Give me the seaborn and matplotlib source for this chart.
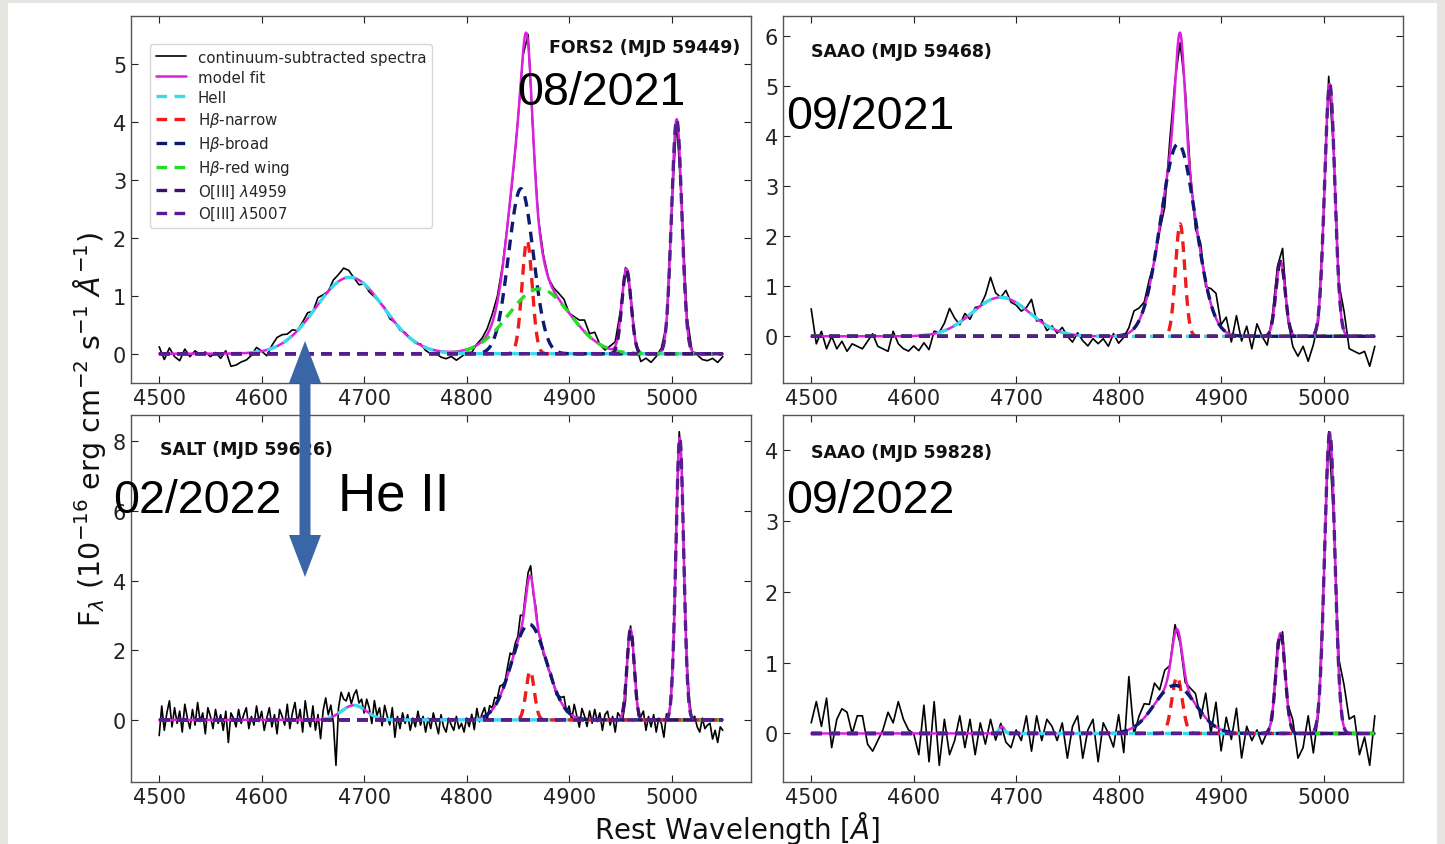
import numpy as np
import matplotlib
matplotlib.use("Agg")
import matplotlib.pyplot as plt
from matplotlib.patches import Rectangle, Polygon
import seaborn as sns

# panel info
panel_titles = ["FORS2 (MJD 59449)", "SAAO (MJD 59468)", "SALT (MJD 59626)", "SAAO (MJD 59828)"]
panel_dates = ["08/2021", "09/2021", "02/2022", "09/2022"]
wave_step = [5, 5, 2.5, 5]

# fitted gaussian components, one tuple per panel: (centre [A], peak flux, sigma [A])
heii = [(4686, 1.32, 33), (4685, 0.78, 28), (4690, 0.42, 12), (4686, 0.10, 2.5)]
hb_narrow = [(4859, 1.95, 5), (4860, 2.25, 4.5), (4862, 1.40, 4), (4857, 0.80, 5)]
hb_broad = [(4853, 2.85, 12), (4858, 3.85, 17), (4861, 2.75, 17), (4855, 0.68, 20)]
hb_red_wing = [(4871, 1.12, 30), (4871, 0.0, 30), (4871, 0.0, 30), (4871, 0.0, 30)]
oiii_4959 = [(4956, 1.45, 4.5), (4958, 1.50, 4.5), (4960, 2.60, 3.5), (4958, 1.42, 4.5)]
oiii_5007 = [(5005, 4.05, 5), (5006, 5.05, 5), (5008, 8.10, 3.8), (5006, 4.25, 5)]

# spectrum minus model (one value per pixel step)
res_fors2 = [
    0.12, -0.10, 0.10, -0.05, -0.12, 0.08, -0.05, 0.05, -0.02, 0.03,
    -0.05, 0.02, -0.08, 0.05, -0.22, -0.20, -0.15, -0.12, -0.05, 0.08,
    0.00, -0.10, 0.05, 0.15, 0.15, 0.10, 0.10, 0.00, 0.05, 0.10,
    0.00, 0.12, 0.05, 0.00, 0.10, 0.12, 0.18, 0.12, 0.00, -0.08,
    0.00, -0.05, -0.03, 0.00, 0.02, -0.05, 0.00, -0.03, 0.02, 0.00,
    -0.02, 0.02, -0.05, -0.08, -0.05, -0.10, -0.12, -0.08, -0.15, -0.10,
    -0.05, -0.08, 0.02, 0.05, 0.10, 0.15, 0.10, 0.05, 0.00, -0.05,
    0.00, -0.05, 0.15, -0.05, 0.00, 0.05, 0.00, 0.05, 0.10, 0.12,
    0.00, 0.05, 0.10, 0.20, 0.05, 0.15, 0.00, -0.05, 0.05, 0.08,
    0.10, 0.05, 0.05, -0.05, -0.15, -0.08, -0.15, -0.05, 0.05, -0.05,
    0.00, 0.00, 0.05, 0.10, 0.00, -0.02, -0.10, -0.12, -0.08, -0.15,
    -0.05,
]
res_saao1 = [
    0.55, -0.15, 0.10, -0.25, 0.00, -0.25, -0.10, -0.30, -0.15, -0.20,
    -0.25, -0.10, 0.05, -0.20, -0.25, -0.30, 0.10, -0.15, -0.25, -0.30,
    -0.20, -0.30, -0.15, -0.30, 0.05, 0.00, 0.15, 0.40, 0.15, -0.05,
    0.10, -0.10, 0.05, 0.00, 0.15, 0.45, 0.10, 0.00, 0.15, -0.05,
    -0.05, -0.10, 0.05, 0.30, -0.05, 0.05, -0.10, 0.05, -0.05, 0.10,
    -0.05, -0.15, 0.05, -0.10, -0.20, -0.05, -0.15, -0.05, -0.20, 0.05,
    -0.15, -0.05, 0.10, 0.35, 0.25, 0.10, 0.15, -0.05, -0.10, -0.30,
    0.30, 0.10, -0.20, 0.20, 0.10, -0.20, 0.20, -0.10, 0.30, 0.50,
    0.05, 0.30, -0.15, 0.40, -0.10, 0.20, -0.25, 0.25, 0.00, -0.20,
    0.10, 0.20, 0.40, -0.10, -0.25, -0.40, -0.20, -0.50, -0.20, -0.15,
    0.00, 0.25, -0.05, 0.05, 0.40, -0.25, -0.30, -0.35, -0.30, -0.60,
    -0.20,
]
res_salt = [
    -0.45, 0.40, -0.30, 0.20, 0.55, -0.20, 0.35, -0.10, 0.25, -0.35, 0.45, 0.05, -0.25, 0.30, -0.15, 0.50, -0.05, 0.20, -0.40, 0.35,
    0.10, -0.25, 0.30, -0.10, 0.15, -0.30, 0.25, -0.65, 0.20, 0.05, -0.20, 0.30, -0.10, 0.15, 0.35, -0.25, 0.10, -0.15, 0.40, -0.05,
    0.25, -0.30, 0.05, 0.35, -0.20, 0.15, -0.40, 0.30, 0.10, -0.15, 0.45, -0.25, 0.20, 0.50, -0.10, 0.30, -0.35, 0.55, 0.05, -0.20,
    0.40, -0.30, 0.15, -0.55, 0.25, 0.60, 0.10, 0.35, -0.20, -1.45, 0.15, 0.55, 0.30, 0.20, 0.40, 0.05, 0.30, 0.45, 0.10, 0.25,
    -0.10, 0.35, 0.15, -0.25, 0.45, 0.05, 0.30, -0.20, 0.40, 0.10, -0.15, 0.35, -0.50, 0.10, -0.25, 0.20, -0.10, 0.15, -0.30, 0.05,
    -0.20, 0.25, -0.15, 0.10, -0.35, 0.05, -0.25, 0.20, -0.10, -0.40, 0.15, -0.20, -0.35, 0.05, -0.15, -0.30, 0.10, -0.25, -0.10, -0.35,
    0.05, -0.20, 0.15, -0.30, 0.30, -0.10, 0.10, 0.25, -0.15, 0.20, 0.05, 0.25, 0.10, 0.30, 0.15, 0.05, 0.25, 0.40, 0.10, 0.20,
    0.15, 0.50, 0.10, 0.20, 0.25, 0.30, -0.10, 0.15, -0.05, 0.10, -0.10, 0.05, -0.05, 0.10, 0.00, -0.10, 0.05, 0.15, 0.30, -0.05,
    0.20, -0.15, 0.35, 0.05, -0.25, 0.30, 0.10, -0.20, 0.25, -0.10, 0.30, -0.05, 0.20, -0.30, 0.15, 0.25, -0.15, 0.10, -0.35, 0.20,
    0.05, -0.20, -0.40, 0.15, 0.10, -0.05, 0.20, -0.15, 0.05, 0.25, -0.30, 0.10, -0.20, 0.15, -0.35, 0.05, -0.10, -0.50, 0.15, -0.05,
    0.10, -0.15, 0.25, 0.25, 0.30, -0.10, 0.15, 0.20, -0.05, 0.10, -0.20, -0.35, 0.05, -0.25, -0.15, -0.10, -0.55, -0.30, -0.65, -0.20,
    -0.30,
]
res_saao2 = [
    0.15, 0.45, 0.10, 0.50, -0.20, 0.20, 0.35, 0.30, 0.00, 0.25,
    0.25, -0.15, -0.25, -0.10, 0.05, 0.30, 0.15, 0.45, 0.20, 0.05,
    0.00, -0.30, 0.40, -0.40, 0.45, -0.45, 0.20, -0.30, -0.10, 0.25,
    -0.20, 0.20, -0.30, 0.15, -0.15, 0.20, -0.10, 0.05, -0.15, -0.20,
    0.05, -0.10, 0.25, -0.25, 0.25, -0.10, 0.20, 0.10, -0.10, 0.15,
    -0.35, 0.10, 0.25, -0.35, 0.05, 0.20, -0.40, 0.15, 0.00, -0.20,
    0.25, -0.30, 0.75, -0.10, 0.10, 0.20, 0.10, 0.30, 0.10, 0.25,
    0.00, 0.12, -0.05, -0.10, 0.10, 0.15, -0.10, 0.35, -0.15, 0.35,
    -0.30, 0.20, -0.10, 0.35, -0.35, 0.10, -0.10, 0.05, -0.15, 0.00,
    -0.10, 0.15, 0.15, 0.00, 0.15, -0.35, -0.20, 0.25, -0.30, -0.10,
    0.05, 0.10, -0.10, 0.20, 0.60, 0.20, 0.25, -0.30, -0.05, -0.45,
    0.25,
]
residuals = [res_fors2, res_saao1, res_salt, res_saao2]

components = [
    ("HeII", heii, "#36dcec"),
    (r"H$\beta$-narrow", hb_narrow, "#f01c1c"),
    (r"H$\beta$-broad", hb_broad, "#0d1a70"),
    (r"H$\beta$-red wing", hb_red_wing, "#26dc26"),
    (r"O[III] $\lambda$4959", oiii_4959, "#3d0f70"),
    (r"O[III] $\lambda$5007", oiii_5007, "#561c90"),
]


def gauss(wave, centre, peak, sigma):
    return peak * np.exp(-0.5 * ((wave - centre) / sigma) ** 2)


sns.set_style("ticks")
plt.rcParams["font.family"] = ["DejaVu Sans"]

W, H = 1445, 845
fig = plt.figure(figsize=(W / 100, H / 100), dpi=100, facecolor="#e7e5e1")
fig.patches.append(Rectangle((8 / W, 0), 1429 / W, 841 / H, transform=fig.transFigure,
                             facecolor="white", edgecolor="none", zorder=-10))

# axes boxes in pixels: left, top, right, bottom
boxes = [(131, 17, 751, 384), (783, 17, 1403, 384), (131, 416, 751, 783), (783, 416, 1403, 783)]
title_pos = [(0.982, 0.916, "right"), (0.045, 0.905, "left"), (0.047, 0.907, "left"), (0.045, 0.90, "left")]

fine = np.linspace(4500, 5050, 1101)

for i, (l, t, r, b) in enumerate(boxes):
    ax = fig.add_axes([l / W, 1 - b / H, (r - l) / W, (b - t) / H])
    wave = np.arange(4500, 5050 + 0.01, wave_step[i])
    model_grid = sum(gauss(wave, *comp[i]) for _, comp, _ in components)
    model_fine = sum(gauss(fine, *comp[i]) for _, comp, _ in components)
    flux = model_grid + np.array(residuals[i])

    sns.lineplot(x=wave, y=flux, ax=ax, color="black", lw=1.2,
                 label="continuum-subtracted spectra")
    sns.lineplot(x=fine, y=model_fine, ax=ax, color="#dd20dd", lw=1.8, label="model fit")
    for name, comp, color in components:
        sns.lineplot(x=fine, y=gauss(fine, *comp[i]), ax=ax, color=color, lw=2.4,
                     linestyle=(0, (3.2, 2.2)), label=name)

    ax.xaxis.set_major_locator(plt.MultipleLocator(100))
    ax.tick_params(direction="in", top=True, right=True, length=5, width=0.8,
                   labelsize=15, colors="#222222")
    for sp in ax.spines.values():
        sp.set_color("#555555")
        sp.set_linewidth(1.0)
        sp.set_visible(True)
    ax.set_xlabel("")
    ax.set_ylabel("")

    tx, ty, ha = title_pos[i]
    ax.text(tx, ty, panel_titles[i], transform=ax.transAxes, ha=ha, va="center",
            fontsize=12.5, fontweight="bold", color="#111111")

    if i == 0:
        ax.legend(loc="upper left", bbox_to_anchor=(0.03, 0.925), borderaxespad=0,
                  fontsize=10.8, labelspacing=0.34, handlelength=2.0)
    else:
        leg = ax.get_legend()
        if leg is not None:
            leg.remove()

fig.text(90 / W, 1 - 430 / H,
         r"F$_\lambda$ (10$^{-16}$ erg cm$^{-2}$ s$^{-1}$ $\AA^{-1}$)",
         rotation=90, ha="center", va="center", fontsize=20.5, color="#111111")
fig.text(737 / W, 1 - 829 / H, r"Rest Wavelength [$\AA$]", ha="center", va="center",
         fontsize=20, color="#111111")

# date labels and the He II marker laid over the figure
date_xy = [(517, 105), (786, 129), (113, 513), (786, 513)]
for (px, py), label in zip(date_xy, panel_dates):
    fig.text(px / W, 1 - py / H, label, ha="left", va="baseline",
             fontsize=33.5, family="Liberation Sans", color="black", zorder=20)
fig.text(338 / W, 1 - 511 / H, "He II", ha="left", va="baseline",
         fontsize=38, family="Liberation Sans", color="black", zorder=20)

# double-headed arrow (inches from the bottom-left corner)
cx, top, bot = 3.05, (H - 342) / 100, (H - 578) / 100
hl, hw, sw = 0.42, 0.16, 0.055
arrow = Polygon([(cx, top), (cx + hw, top - hl), (cx + sw, top - hl), (cx + sw, bot + hl),
                 (cx + hw, bot + hl), (cx, bot), (cx - hw, bot + hl), (cx - sw, bot + hl),
                 (cx - sw, top - hl), (cx - hw, top - hl)], closed=True,
                transform=fig.dpi_scale_trans, facecolor="#3a66a7", edgecolor="none", zorder=25)
fig.patches.append(arrow)

fig.savefig("out.png", dpi=100, facecolor=fig.get_facecolor())
